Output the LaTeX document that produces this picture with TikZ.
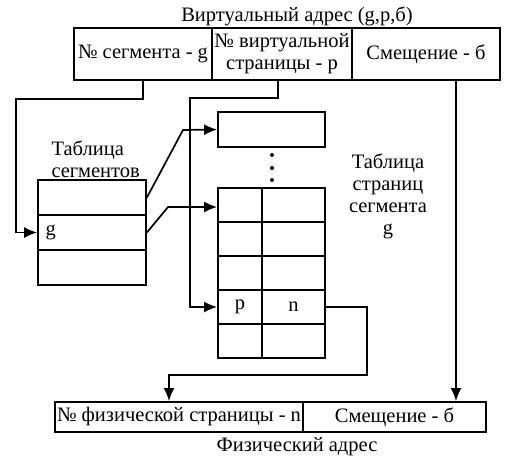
\documentclass[tikz,border=0pt]{standalone}
\usepackage{fontspec}
\setmainfont{Liberation Serif}
\usetikzlibrary{arrows.meta,positioning}

\tikzset{
	cell/.style={draw, rectangle, line width=1.8pt, inner sep=0pt, align=center},
	link/.style={line width=1.7pt},
	arr/.style={link, -{Latex[length=13pt,width=11pt]}}
}

\begin{document}
\begin{tikzpicture}[x=1pt,y=-1pt,font=\fontsize{20.5}{22}\selectfont]
		\useasboundingbox (0,0) rectangle (505,459);

		% virtual address
		\draw (297,16) node (vtitle){Виртуальный адрес (g,p,б)};
		\draw (143,54) node [cell, minimum width=138pt, minimum height=52pt] (vseg){№ сегмента - g};
		\draw (282,54) node [cell, minimum width=140pt, minimum height=52pt] (vpage){№ виртуальной\\страницы - p};
		\draw (426,54) node [cell, minimum width=148pt, minimum height=52pt] (voff){Смещение - б};

		% segment table
		\draw (48,159) node [anchor=west, align=left] (segtitle){Таблица\\сегментов};
		\draw (92,197.5) node [cell, minimum width=108pt, minimum height=35pt] (seg1){};
		\draw (92,232.5) node [cell, minimum width=108pt, minimum height=35pt] (seg2){};
		\draw (92,267.5) node [cell, minimum width=108pt, minimum height=35pt] (seg3){};
		\draw (seg2.west) node [right=5pt] (glab){g};

		% page tables
		\draw (271.5,129.5) node [cell, minimum width=107pt, minimum height=35pt] (other){};
		\fill (272,155) circle (2pt) (272,168) circle (2pt) (272,180) circle (2pt);
		\draw (240,205) node [cell, minimum width=44pt, minimum height=34pt] (p1a){};
		\draw (293.5,205) node [cell, minimum width=63pt, minimum height=34pt] (p1b){};
		\draw (240,239) node [cell, minimum width=44pt, minimum height=34pt] (p2a){};
		\draw (293.5,239) node [cell, minimum width=63pt, minimum height=34pt] (p2b){};
		\draw (240,273) node [cell, minimum width=44pt, minimum height=34pt] (p3a){};
		\draw (293.5,273) node [cell, minimum width=63pt, minimum height=34pt] (p3b){};
		\draw (240,307) node [cell, minimum width=44pt, minimum height=34pt] (p4a){p};
		\draw (293.5,307) node [cell, minimum width=63pt, minimum height=34pt] (p4b){n};
		\draw (240,341) node [cell, minimum width=44pt, minimum height=34pt] (p5a){};
		\draw (293.5,341) node [cell, minimum width=63pt, minimum height=34pt] (p5b){};
		\draw (388,196) node [align=center] (pagetitle){Таблица\\страниц\\сегмента\\g};

		% physical address
		\draw (179,417) node [cell, minimum width=248pt, minimum height=30pt] (physn){№ физической страницы - n};
		\draw (394.5,417) node [cell, minimum width=183pt, minimum height=30pt] (physd){Смещение - б};
		\draw (297,447) node (ptitle){Физический адрес};

		\coordinate (bendA) at (16,99);
		\coordinate (bendB) at (190,98);
		\coordinate (bendC) at (367,375);
		\coordinate (kinkA) at (183,130);
		\coordinate (kinkB) at (168,207);
		\coordinate (dtap) at (456,0);

		\draw [arr] (vseg.south) |- (bendA) |- (seg2.west);
		\draw [arr] ([xshift=-4pt]vpage.south) |- (bendB) |- (p4a.west);
		\draw [arr] (voff.south -| dtap) -- (physd.north -| dtap);
		\draw [arr] (seg1.east) -- (kinkA) -- (other.west);
		\draw [arr] (seg2.east) -- (kinkB) -- (kinkB -| p1a.west);
		\draw [arr] (p4b.east) -| (bendC) -| ([xshift=-10pt]physn.north);
	\end{tikzpicture}
\end{document}
